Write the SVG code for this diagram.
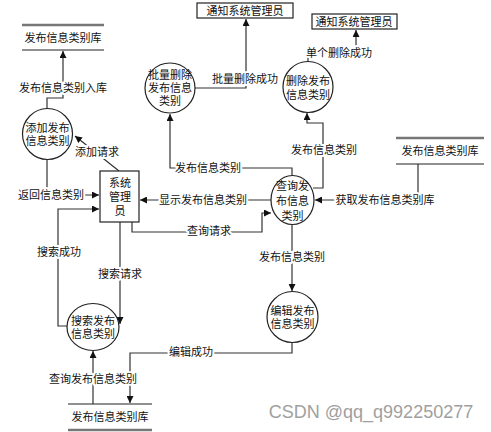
<svg xmlns="http://www.w3.org/2000/svg" width="491" height="432" viewBox="0 0 491 432">
<defs>
<marker id="arr" viewBox="0 0 10 10" refX="10" refY="5" markerWidth="7" markerHeight="7" markerUnits="userSpaceOnUse" orient="auto">
<path d="M0,0 L10,5 L0,10 z" fill="#111"/>
</marker>
<style>
text{font-family:"Liberation Sans","Noto Sans CJK SC",sans-serif;font-size:11px;fill:#111;text-anchor:middle;dominant-baseline:central}
.lbl{stroke:#fff;stroke-width:4;paint-order:stroke;stroke-linejoin:round}
.proc{fill:#fff;stroke:#222;stroke-width:1.2}
.box{fill:#fff;stroke:#222;stroke-width:1.2}
.conn path{fill:none;stroke:#333;stroke-width:1.2;marker-end:url(#arr)}
.thick{stroke:#777;stroke-width:2.5}
.thin{stroke:#222;stroke-width:1.2}
.wm{font-size:18px;fill:#a0a0a0;font-family:"Liberation Sans",sans-serif}
</style>
</defs>
<rect width="491" height="432" fill="#fff"/>

<g id="connectors" class="conn">
<path d="M47,109 V98 H63 V51"/>
<path d="M47,159 V195 H99"/>
<path d="M119,171 L75,136"/>
<path d="M67,326 H58 V209 H99"/>
<path d="M120,222 V324"/>
<path d="M132,222 V232 H262 V213 H271"/>
<path d="M271,200 H140"/>
<path d="M292,176 V168 H170 V114"/>
<path d="M195,88 H246 V19"/>
<path d="M308,62 V53 H356 V30"/>
<path d="M313,188 H323 V123 H307 V113"/>
<path d="M418,164 V200 H315"/>
<path d="M292,225 V291"/>
<path d="M292,343 V353 H130 V403"/>
<path d="M93,404 V351"/>
</g>

<g id="labels">
<text class="lbl" x="63" y="88">发布信息类别入库</text>
<text class="lbl" x="51" y="195">返回信息类别</text>
<text class="lbl" x="97" y="152">添加请求</text>
<text class="lbl" x="59" y="252">搜索成功</text>
<text class="lbl" x="120" y="274">搜索请求</text>
<text class="lbl" x="209" y="231">查询请求</text>
<text class="lbl" x="203" y="200">显示发布信息类别</text>
<text class="lbl" x="208" y="168">发布信息类别</text>
<text class="lbl" x="245" y="79">批量删除成功</text>
<text class="lbl" x="339" y="53">单个删除成功</text>
<text class="lbl" x="324" y="150">发布信息类别</text>
<text class="lbl" x="385" y="200">获取发布信息类别库</text>
<text class="lbl" x="292" y="257">发布信息类别</text>
<text class="lbl" x="191" y="352">编辑成功</text>
<text class="lbl" x="93" y="379">查询发布信息类别</text>
</g>

<g id="store-top-left">
<line class="thick" x1="22" y1="25" x2="104" y2="25"/>
<line class="thin" x1="22" y1="50" x2="104" y2="50"/>
<text x="63" y="38">发布信息类别库</text>
</g>
<g id="store-right">
<line class="thick" x1="396" y1="138" x2="484" y2="138"/>
<line class="thin" x1="396" y1="164" x2="484" y2="164"/>
<text x="440" y="151">发布信息类别库</text>
</g>
<g id="store-bottom">
<line class="thin" x1="68" y1="404" x2="152" y2="404"/>
<line class="thick" x1="68" y1="430" x2="152" y2="430"/>
<text x="110" y="417">发布信息类别库</text>
</g>

<g id="notify-1">
<rect class="box" x="197" y="3" width="96" height="15"/>
<text x="245" y="11">通知系统管理员</text>
</g>
<g id="notify-2">
<rect class="box" x="312" y="14" width="85" height="15"/>
<text x="354" y="22">通知系统管理员</text>
</g>

<g id="admin">
<rect class="box" x="100" y="171" width="39" height="51"/>
<text x="120" y="183">系统</text>
<text x="120" y="197">管理</text>
<text x="120" y="211">员</text>
</g>

<g id="add">
<ellipse class="proc" cx="47.5" cy="134" rx="25" ry="25.5"/>
<text x="47.5" y="128">添加发布</text>
<text x="47.5" y="141">信息类别</text>
</g>
<g id="batch-delete">
<ellipse class="proc" cx="170" cy="88" rx="25" ry="25"/>
<text x="170" y="75">批量删除</text>
<text x="170" y="88">发布信息</text>
<text x="170" y="101">类别</text>
</g>
<g id="delete">
<ellipse class="proc" cx="308" cy="87" rx="25" ry="25.5"/>
<text x="308" y="81">删除发布</text>
<text x="308" y="95">信息类别</text>
</g>
<g id="query">
<ellipse class="proc" cx="292.5" cy="200" rx="21.5" ry="24.5"/>
<text x="292.5" y="186">查询发</text>
<text x="292.5" y="201">布信息</text>
<text x="292.5" y="216">类别</text>
</g>
<g id="search">
<ellipse class="proc" cx="93" cy="327" rx="26" ry="23.5"/>
<text x="93" y="321">搜索发布</text>
<text x="93" y="334">信息类别</text>
</g>
<g id="edit">
<ellipse class="proc" cx="292.5" cy="317" rx="25.5" ry="25.5"/>
<text x="292.5" y="311">编辑发布</text>
<text x="292.5" y="324">信息类别</text>
</g>

<text class="wm" x="371" y="412">CSDN @qq_q992250277</text>
</svg>
